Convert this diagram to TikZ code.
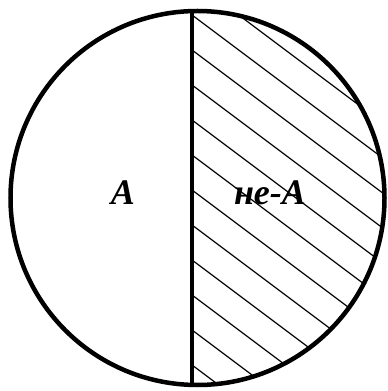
\documentclass[tikz,border=0pt]{standalone}
\usepackage{fontspec}
\setmainfont{Liberation Serif}
\usetikzlibrary{positioning}

\begin{document}
\begin{tikzpicture}[
			x=1pt, y=1pt,
			rim/.style={line width=4.5pt},
			hatch/.style={line width=1.2pt},
			lbl/.style={font=\fontsize{36}{36}\selectfont\bfseries\itshape, inner sep=0pt}
			]
			\useasboundingbox (0,0) rectangle (388,391);
			\coordinate (c) at (197.5,193);
			\coordinate (top) at (192,379.9);
			\coordinate (bot) at (192,6.1);
			
			% hatched half
			\begin{scope}
				\clip (192,0) rectangle (388,391);
				\clip (c) circle (187);
				\foreach \k in {-3,...,12}
					\draw[hatch] (192,341-35*\k) -- ++(240,-180);
			\end{scope}
			
			\draw[rim] (c) circle (187);
			\draw[rim] (top) -- (bot);
			
			\node[lbl] (a) at (123,198) {А};
			\node[lbl] (nea) at (270,198) {не-А};
		\end{tikzpicture}
\end{document}
